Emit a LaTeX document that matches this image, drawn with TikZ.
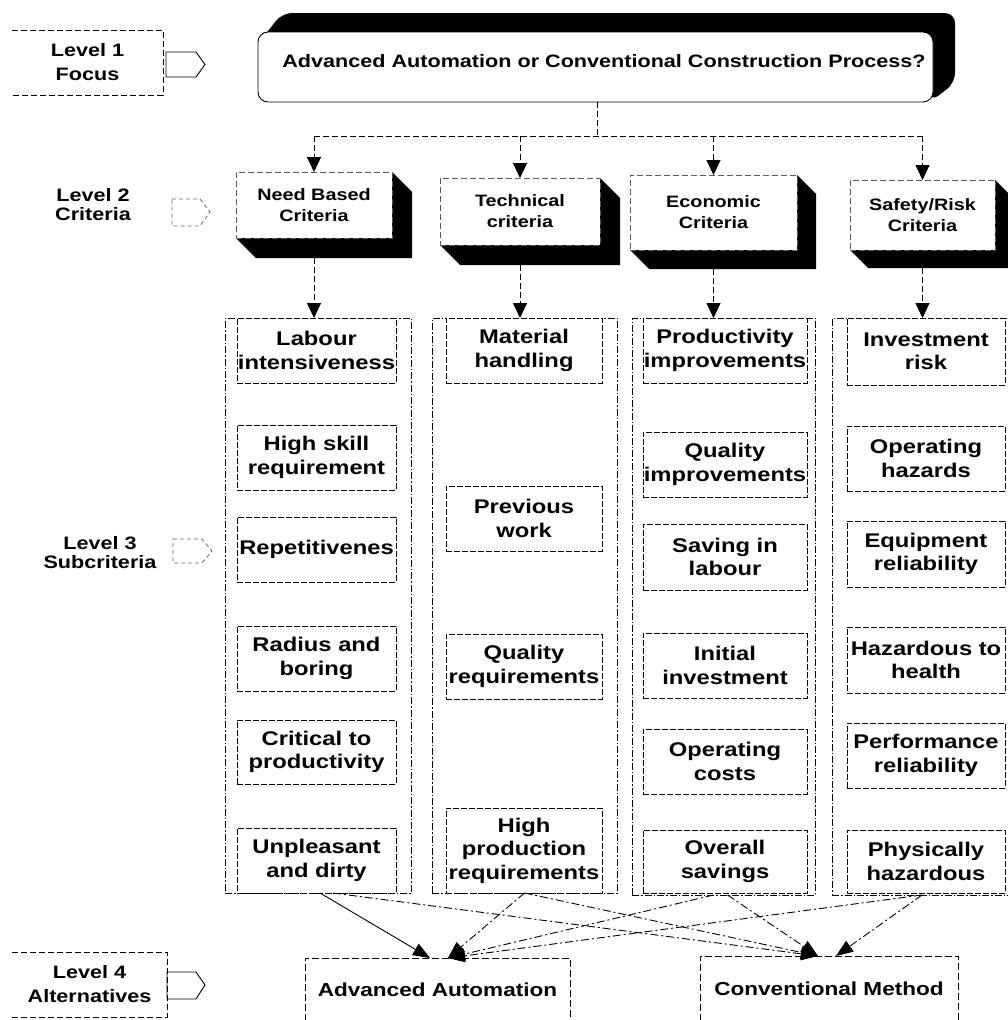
\documentclass[tikz,border=0pt]{standalone}
\usepackage{fontspec}
\setmainfont{Liberation Sans}[FakeStretch=1.2]
\usetikzlibrary{arrows.meta}

\tikzset{
  every node/.style={inner sep=0pt, outer sep=0pt},
  subbox/.style={draw, line width=0.9pt, dash pattern=on 6pt off 2pt, fill=white,
    align=center, font=\fontsize{19.8}{23.5}\selectfont\bfseries},
  colbox/.style={draw, line width=0.9pt, dash pattern=on 7pt off 2pt on 1.5pt off 2pt},
  critfront/.style={draw=black!65, line width=0.8pt, dash pattern=on 6pt off 3pt, fill=white,
    align=center, font=\fontsize{16.5}{21}\selectfont\bfseries},
  lvltext/.style={align=center, font=\fontsize{18}{24}\selectfont\bfseries},
  lvlframe/.style={line width=0.8pt, dash pattern=on 6pt off 3pt},
  lvlarrow/.style={line width=0.9pt},
  faintarrow/.style={line width=0.8pt, draw=black!60, dash pattern=on 4pt off 3pt},
  altbox/.style={draw, line width=0.9pt, dash pattern=on 7pt off 3pt, fill=white,
    font=\fontsize{18.8}{23}\selectfont\bfseries},
  topbox/.style={draw, line width=0.9pt, rounded corners=10pt, fill=white},
  tline/.style={line width=0.9pt, dash pattern=on 6pt off 3pt},
  conn/.style={tline, -{Triangle[width=14pt,length=15pt]}},
  link/.style={line width=0.9pt, dash pattern=on 8pt off 3pt on 2pt off 3pt,
    -{Triangle[width=13pt,length=17pt]}},
}

% box given by its corners (x1,y1) (x2,y2)
\newcommand\subnode[7]{\node[#1, minimum width={#5-#3}, minimum height={#6-#4}]
  (#2) at ({(#3+#5)/2},{(#4+#6)/2}) {#7};}
% criteria box with a black extrusion towards the lower right
\newcommand\critnode[7]{%
  \fill[black] (#2,#5) -- ({#2+#6},{#5+#6}) -- ({#4+#6},{#5+#6}) -- ({#4+#6},{#3+#6}) -- (#4,#3) -- cycle;
  \node[critfront, minimum width={#4-#2}, minimum height={#5-#3}]
    (#1) at ({(#2+#4)/2},{(#3+#5)/2}) {#7};}

\begin{document}
\begin{tikzpicture}[x=1pt, y=-1pt]
\useasboundingbox (0,0) rectangle (1008,1020);
\fill[white] (0,0) rectangle (1008,1020);
\clip (0,0) rectangle (1008,1020);

% ---------- level labels ----------
\node[lvltext, minimum width=151, minimum height=65] (lvl1) at (87.5,62.5) {Level 1\\Focus};
\draw[lvlframe] (lvl1.north west) -- (lvl1.north east) -- (lvl1.south east) -- (lvl1.south west);
\draw[lvlarrow] (166,52) -- (196,52) -- (205,64.5) -- (196,77) -- (166,77) -- cycle;

\node[lvltext, font=\fontsize{18}{19}\selectfont\bfseries] (lvl2) at (93,205) {Level 2\\Criteria};
\draw[faintarrow] (172,199) -- (200,199) -- (210,212) -- (200,226) -- (172,226) -- cycle;

\node[lvltext, font=\fontsize{18}{19}\selectfont\bfseries] (lvl3) at (100,553) {Level 3\\Subcriteria};
\draw[faintarrow] (173,539) -- (202,539) -- (212,551) -- (202,563) -- (173,563) -- cycle;

\node[lvltext, minimum width=155, minimum height=65] (lvl4) at (89.5,984.5) {Level 4\\Alternatives};
\draw[lvlframe] (lvl4.north west) -- (lvl4.north east) -- (lvl4.south east) -- (lvl4.south west);
\draw[lvlarrow] (167,972) -- (196,972) -- (205,985) -- (196,999) -- (167,999) -- cycle;

% ---------- level 1: focus ----------
\fill[black, rounded corners=10pt] (258,44) -- (282,13) -- (955,13) -- (955,83) -- (930,102) -- (933,32) -- cycle;
\subnode{topbox}{focus}{258}{32}{933}{102}{}
\node[font=\fontsize{18}{22}\selectfont\bfseries] (focustext) at (604,61)
  {Advanced Automation or Conventional Construction Process?};

% ---------- level 2: criteria ----------
\critnode{need}{236}{172}{392}{238}{20}{Need Based\\Criteria}
\critnode{tech}{440}{178}{600}{245}{20}{Technical\\criteria}
\critnode{econ}{630}{175}{797}{250}{19}{Economic\\Criteria}
\critnode{safe}{850}{180}{995}{250}{18}{Safety/Risk\\Criteria}

\coordinate (hub) at (597,136);
\draw[tline] (focus.south -| hub) -- (hub);
\draw[tline] (hub -| need.north) -- (hub -| safe.north);
\draw[conn] (hub -| need.north) -- (need.north);
\draw[conn] (hub -| tech.north) -- (tech.north);
\draw[conn] (hub -| econ.north) -- (econ.north);
\draw[conn] (hub -| safe.north) -- (safe.north);

% ---------- level 3: subcriteria columns ----------
\subnode{colbox}{col1}{225}{318}{411}{893}{}
\subnode{colbox}{col2}{432}{318}{617}{893}{}
\subnode{colbox}{col3}{632}{318}{815}{895}{}
\subnode{colbox}{col4}{832}{318}{1012}{895}{}

\draw[conn] ([yshift=-20pt]need.south) -- (need.south |- col1.north);
\draw[conn] ([yshift=-20pt]tech.south) -- (tech.south |- col2.north);
\draw[conn] ([yshift=-19pt]econ.south) -- (econ.south |- col3.north);
\draw[conn] ([yshift=-18pt]safe.south) -- (safe.south |- col4.north);

% need based
\subnode{subbox}{s11}{237}{318}{396}{383}{Labour\\intensiveness}
\subnode{subbox}{s12}{237}{425}{396}{490}{High skill\\requirement}
\subnode{subbox}{s13}{237}{517}{396}{582}{Repetitivenes}
\subnode{subbox}{s14}{237}{626}{396}{691}{Radius and\\boring}
\subnode{subbox}{s15}{237}{720}{396}{784}{Critical to\\productivity}
\subnode{subbox}{s16}{237}{828}{396}{893}{Unpleasant\\and dirty}
% technical
\subnode{subbox}{s21}{446}{318}{602}{383}{Material\\handling}
\subnode{subbox}{s22}{446}{486}{602}{551}{Previous\\work}
\subnode{subbox}{s23}{446}{634}{602}{699}{Quality\\requirements}
\subnode{subbox}{s24}{446}{808}{602}{893}{High\\production\\requirements}
% economic
\subnode{subbox}{s31}{643}{318}{807}{383}{Productivity\\improvements}
\subnode{subbox}{s32}{643}{432}{807}{497}{Quality\\improvements}
\subnode{subbox}{s33}{643}{524}{807}{590}{Saving in\\labour}
\subnode{subbox}{s34}{643}{633}{807}{698}{Initial\\investment}
\subnode{subbox}{s35}{643}{729}{807}{794}{Operating\\costs}
\subnode{subbox}{s36}{643}{830}{807}{893}{Overall\\savings}
% safety / risk
\subnode{subbox}{s41}{847}{318}{1005}{385}{Investment\\risk}
\subnode{subbox}{s42}{847}{426}{1005}{491}{Operating\\hazards}
\subnode{subbox}{s43}{847}{521}{1005}{587}{Equipment\\reliability}
\subnode{subbox}{s44}{847}{627}{1005}{693}{Hazardous to\\health}
\subnode{subbox}{s45}{847}{723}{1005}{788}{Performance\\reliability}
\subnode{subbox}{s46}{847}{830}{1005}{893}{Physically\\hazardous}

% ---------- level 4: alternatives ----------
\subnode{altbox}{auto}{305}{958}{570}{1022}{Advanced Automation}
\subnode{altbox}{conv}{700}{956}{958}{1022}{Conventional Method}

\draw[link, solid] ([xshift=2pt]col1.south) -- ([xshift=-7.5pt]auto.north);
\draw[link] ([xshift=15pt]col1.south) -- ([xshift=-11pt]conv.north);
\draw[link] (col2.south) -- ([xshift=10.5pt]auto.north);
\draw[link] (col2.south) -- ([xshift=-11pt]conv.north);
\draw[link] ([xshift=-10pt]col3.south) -- ([xshift=10.5pt]auto.north);
\draw[link] ([xshift=4pt]col3.south) -- ([xshift=-11pt]conv.north);
\draw[link] (col4.south) -- ([xshift=10.5pt]auto.north);
\draw[link] (col4.south) -- ([xshift=7pt]conv.north);
\end{tikzpicture}
\end{document}
